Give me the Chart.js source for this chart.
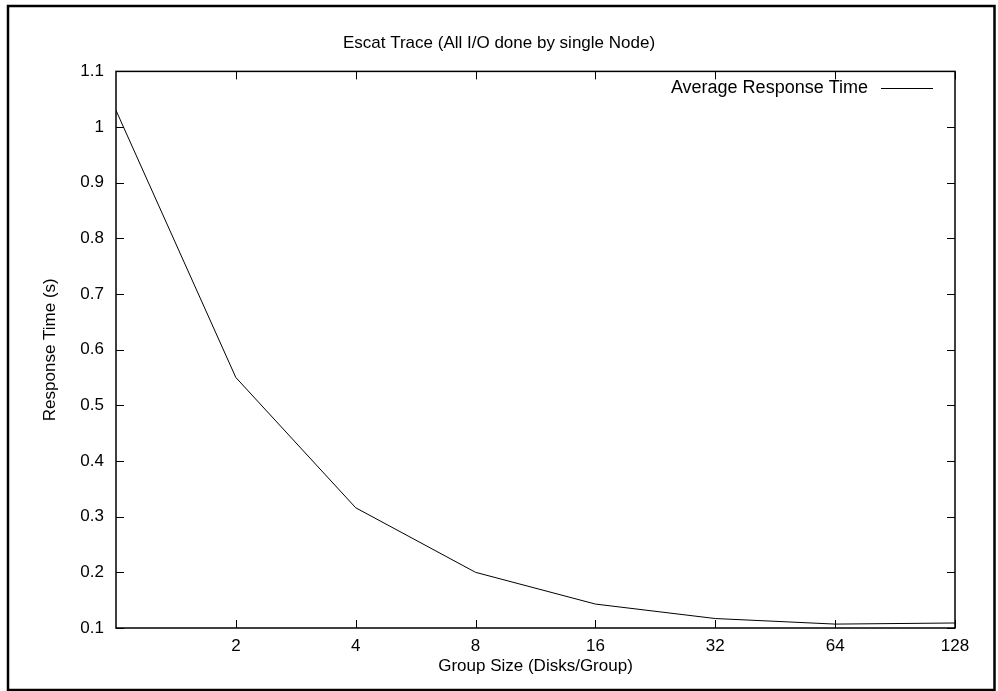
<!DOCTYPE html>
<html>
<head>
<meta charset="utf-8">
<script src="https://cdn.jsdelivr.net/npm/chart.js@4/dist/chart.umd.min.js"></script>
<style>
    html, body { margin: 0; padding: 0; background: #fff; }
    #wrap { width: 998px; height: 691px; position: relative; }
</style>
</head>
<body>
<div id="wrap"><canvas id="escatChart"></canvas></div>
<script>
// Data
const groupSizes = [1, 2, 4, 8, 16, 32, 64, 128];
const responseTimes = [1.03, 0.55, 0.316, 0.2, 0.143, 0.117, 0.107, 0.109];
const xTickValues = [2, 4, 8, 16, 32, 64, 128];
const yTickValues = [0.1, 0.2, 0.3, 0.4, 0.5, 0.6, 0.7, 0.8, 0.9, 1, 1.1];

const FONT = 'Liberation Sans, Arial, Helvetica, sans-serif';
Chart.defaults.font.family = FONT;
Chart.defaults.font.size = 17;
Chart.defaults.color = '#000';

// gnuplot style frame, inward ticks on all four sides, and the outer border
const framePlugin = {
    id: 'frame',
    afterDraw(chart) {
        const ctx = chart.ctx;
        const area = chart.chartArea;
        const x = chart.scales.x;
        const y = chart.scales.y;
        const tick = 8;
        ctx.save();
        ctx.strokeStyle = '#000';
        ctx.lineWidth = 1.5;
        ctx.strokeRect(area.left, area.top, area.right - area.left, area.bottom - area.top);
        ctx.lineWidth = 1;
        ctx.beginPath();
        xTickValues.forEach(function(v) {
            const px = Math.round(x.getPixelForValue(v)) + 0.5;
            ctx.moveTo(px, area.bottom); ctx.lineTo(px, area.bottom - tick);
            ctx.moveTo(px, area.top); ctx.lineTo(px, area.top + tick);
        });
        yTickValues.forEach(function(v) {
            const py = Math.round(y.getPixelForValue(v)) + 0.5;
            ctx.moveTo(area.left, py); ctx.lineTo(area.left + tick, py);
            ctx.moveTo(area.right, py); ctx.lineTo(area.right - tick, py);
        });
        ctx.stroke();

        // key, top right inside the plot
        const ds = chart.data.datasets[0];
        ctx.font = '18px ' + FONT;
        ctx.fillStyle = '#000';
        ctx.textAlign = 'right';
        ctx.textBaseline = 'middle';
        ctx.fillText(ds.label, 868, 88);
        ctx.beginPath();
        ctx.moveTo(881, 88.5);
        ctx.lineTo(933, 88.5);
        ctx.stroke();

        // outer border
        ctx.lineWidth = 2.5;
        ctx.strokeRect(8, 6, 986.5, 684);
        ctx.restore();
    }
};

const chartData = {
    labels: groupSizes,
    datasets: [{
        label: 'Average Response Time',
        data: groupSizes.map(function(g, i) { return { x: g, y: responseTimes[i] }; }),
        borderColor: '#000',
        borderWidth: 1,
        pointRadius: 0,
        tension: 0,
        fill: false
    }]
};

const chartConfig = {
    type: 'line',
    data: chartData,
    options: {
        responsive: true,
        maintainAspectRatio: false,
        animation: false,
        layout: { padding: 0 },
        plugins: {
            legend: { display: false },
            tooltip: { enabled: false },
            title: {
                display: true,
                text: 'Escat Trace (All I/O done by single Node)',
                font: { size: 17, weight: 'normal' },
                color: '#000',
                padding: { top: 33, bottom: 18 }
            }
        },
        scales: {
            x: {
                type: 'logarithmic',
                min: 1,
                max: 128,
                afterBuildTicks: function(scale) {
                    scale.ticks = xTickValues.map(function(v) { return { value: v }; });
                },
                afterFit: function(scale) { scale.height = 63; },
                ticks: {
                    padding: 8,
                    maxRotation: 0,
                    autoSkip: false,
                    callback: function(v) { return String(v); }
                },
                grid: { display: false, drawTicks: false },
                border: { display: false },
                title: {
                    display: true,
                    text: 'Group Size (Disks/Group)',
                    padding: { top: 0, bottom: 14 }
                }
            },
            y: {
                type: 'linear',
                min: 0.1,
                max: 1.1,
                afterBuildTicks: function(scale) {
                    scale.ticks = yTickValues.map(function(v) { return { value: v }; });
                },
                afterFit: function(scale) { scale.width = 116; },
                ticks: {
                    padding: 12,
                    autoSkip: false,
                    callback: function(v) { return String(v); }
                },
                grid: { display: false, drawTicks: false },
                border: { display: false },
                title: {
                    display: true,
                    text: 'Response Time (s)',
                    padding: { top: 40, bottom: 0 }
                }
            },
            // empty right axis only to hold the right margin
            y2: {
                type: 'linear',
                position: 'right',
                display: true,
                ticks: { display: false },
                grid: { display: false, drawTicks: false },
                border: { display: false },
                afterFit: function(scale) { scale.width = 43; }
            }
        }
    },
    plugins: [framePlugin]
};

const escatChart = new Chart(document.getElementById('escatChart'), chartConfig);
</script>
</body>
</html>
